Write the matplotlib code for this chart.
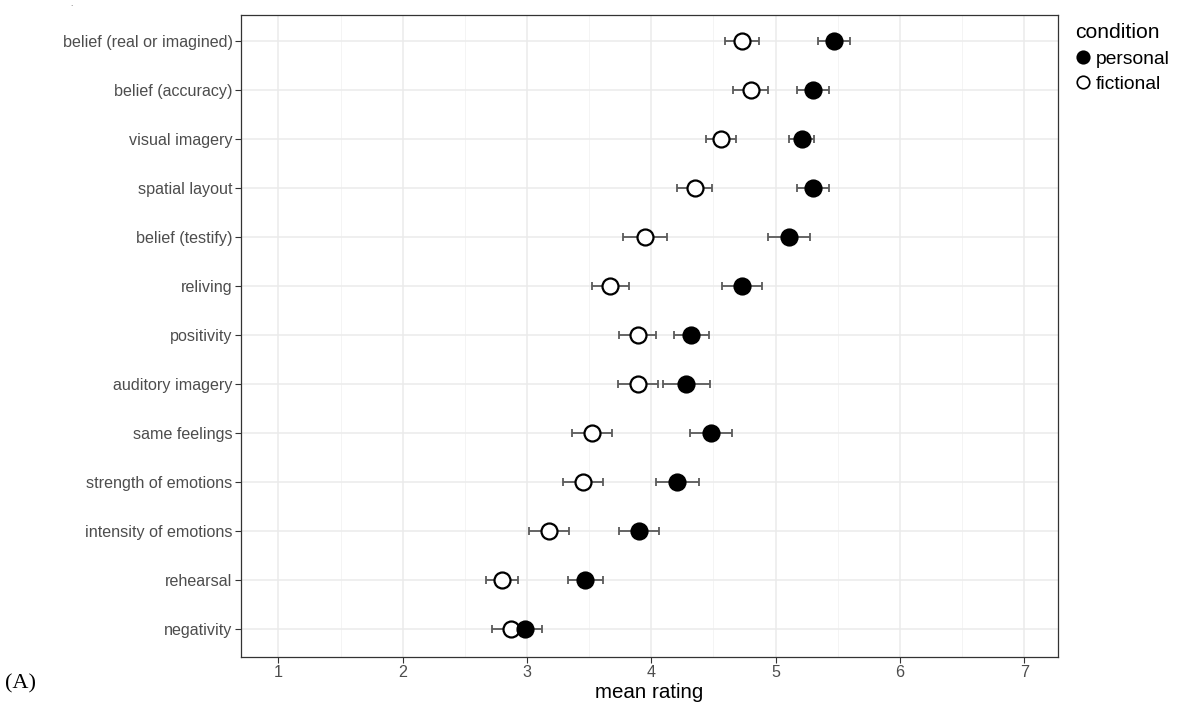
import numpy as np
import matplotlib
matplotlib.use("Agg")
import matplotlib.pyplot as plt
from matplotlib.lines import Line2D

# datos (de abajo hacia arriba)
items = ["negativity", "rehearsal", "intensity of emotions", "strength of emotions",
         "same feelings", "auditory imagery", "positivity", "reliving",
         "belief (testify)", "spatial layout", "visual imagery",
         "belief (accuracy)", "belief (real or imagined)"]
personal = [2.98, 3.47, 3.90, 4.21, 4.48, 4.28, 4.32, 4.73, 5.11, 5.30, 5.21, 5.30, 5.47]
personal_se = [0.14, 0.14, 0.16, 0.17, 0.17, 0.19, 0.14, 0.16, 0.17, 0.13, 0.10, 0.13, 0.13]
fictional = [2.87, 2.80, 3.18, 3.45, 3.52, 3.89, 3.89, 3.67, 3.95, 4.35, 4.56, 4.80, 4.73]
fictional_se = [0.15, 0.13, 0.16, 0.16, 0.16, 0.16, 0.15, 0.15, 0.18, 0.14, 0.12, 0.14, 0.14]

plt.rcParams['font.family'] = ['Liberation Sans', 'DejaVu Sans']

fig = plt.figure(figsize=(11.77, 7.13), dpi=100)
ax = fig.add_axes([0.2048, 0.0785, 0.694, 0.9005])

y = np.arange(len(items))
ecol = "#5a5a5a"

# barras de error
ax.errorbar(fictional, y, xerr=fictional_se, fmt="none", ecolor=ecol, elinewidth=1.3,
            capsize=3, capthick=1.3, zorder=2)
ax.errorbar(personal, y, xerr=personal_se, fmt="none", ecolor=ecol, elinewidth=1.3,
            capsize=3, capthick=1.3, zorder=2)

# puntos
ax.plot(fictional, y, "o", ms=11.5, mfc="white", mec="black", mew=1.6, ls="none", zorder=3)
ax.plot(personal, y, "o", ms=11.5, mfc="black", mec="black", mew=1.6, ls="none", zorder=4)

ax.set_xlim(0.70, 7.27)
ax.set_ylim(-0.57, len(items) - 1 + 0.54)
ax.set_xticks(range(1, 8))
ax.set_xticks(np.arange(1.5, 7.0, 1.0), minor=True)
ax.set_yticks(y)
ax.set_yticklabels(items)

ax.grid(True, which="major", color="#ebebeb", lw=1.1, zorder=0)
ax.grid(True, which="minor", axis="x", color="#f2f2f2", lw=0.6, zorder=0)
ax.set_axisbelow(True)

ax.tick_params(axis="both", which="major", length=4, color="#333333", labelsize=11.6,
               labelcolor="#4d4d4d", width=0.8, pad=2)
ax.tick_params(axis="both", which="minor", length=0)
for s in ax.spines.values():
    s.set_color("#333333")
    s.set_linewidth(0.9)

ax.set_xlabel("mean rating", fontsize=14.8, labelpad=2)

# leyenda
handles = [Line2D([], [], marker="o", ls="none", ms=9, mfc="black", mec="black", mew=1.2),
           Line2D([], [], marker="o", ls="none", ms=9, mfc="white", mec="black", mew=1.2)]
leg = fig.legend(handles, ["personal", "fictional"], title="condition",
                 loc="upper left", bbox_to_anchor=(0.907, 0.978), frameon=False,
                 fontsize=13.9, title_fontsize=15.2, handletextpad=0.25,
                 labelspacing=0.4, borderaxespad=0, handlelength=0.8)
leg._legend_box.align = "left"

fig.text(0.004, 0.035, "(A)", fontsize=16, family="Liberation Serif")
fig.text(0.060, 0.992, ".", fontsize=6, color="#555555")

fig.savefig("out.png", dpi=100)
